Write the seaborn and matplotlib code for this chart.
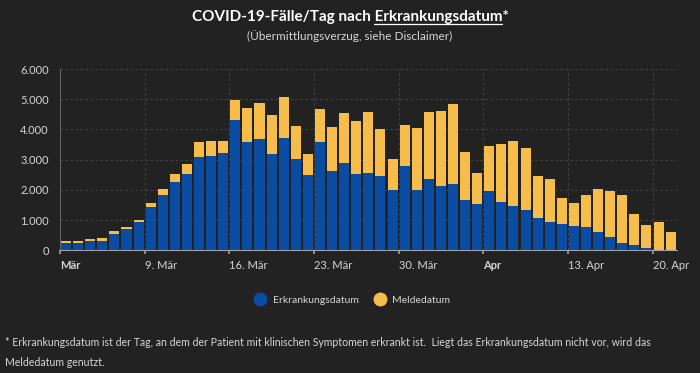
import numpy as np
import pandas as pd
import matplotlib
matplotlib.use("Agg")
import matplotlib.pyplot as plt
from matplotlib.lines import Line2D
from matplotlib.ticker import FuncFormatter
import seaborn as sns

# daily cases, 2 Mar - 21 Apr 2020
days = pd.date_range("2020-03-02", "2020-04-21").strftime("%d.%m.")
erkrankung = [255, 233, 322, 311, 555, 700, 922, 1433, 1833, 2267, 2511, 3089, 3133,
              3222, 4300, 3589, 3678, 3189, 3711, 3011, 2478, 3589, 2633, 2878, 2533,
              2567, 2444, 1989, 2778, 2011,
              2367, 2133, 2189, 1678, 1522, 1956, 1589, 1467, 1333, 1067, 944, 878,
              789, 756, 600, 444, 256, 178, 78, 22, 0]
melde = [45, 67, 67, 111, 89, 78, 78, 145, 211, 255, 344, 511, 500,
         411, 678, 1111, 1211, 1300, 1367, 1111, 711, 1078, 1456, 1666, 1734,
         2011, 1578, 1022, 1366, 2044,
         2211, 2478, 2644, 1577, 1022, 1511, 1944, 2155, 2067, 1388, 1423, 844,
         778, 1077, 1422, 1511, 1577, 1011, 766, 911, 600]
tick_pos = [-0.5, 6.5, 13.5, 20.5, 27.5, 34.5, 41.5, 48.5]
tick_labels = ["Mär", "9. Mär", "16. Mär", "23. Mär", "30. Mär", "Apr", "13. Apr", "20. Apr"]

BG = "#222222"
BLUE = "#0b4ca3"
YELLOW = "#f6bd4a"
TXT = "#d6d6d6"

sns.set_theme(style="dark", rc={"figure.facecolor": BG, "axes.facecolor": BG})
plt.rcParams["font.family"] = ["Lato", "DejaVu Sans"]

df = pd.DataFrame({"tag": days, "erk": erkrankung, "melde": melde})
df["gesamt"] = df["erk"] + df["melde"]

fig = plt.figure(figsize=(7, 3.73), dpi=100)
ax = fig.add_axes([0.0857, 0.329, 0.881, 0.486])

sns.barplot(data=df, x="tag", y="gesamt", color=YELLOW, saturation=1, width=0.83,
            linewidth=0, ax=ax)
sns.barplot(data=df, x="tag", y="erk", color=BLUE, saturation=1, width=0.83,
            linewidth=0, ax=ax)

ax.set_xlim(-0.5, 50.5)
ax.set_ylim(0, 6000)
ax.set_xlabel("")
ax.set_ylabel("")
ax.set_yticks(range(0, 7000, 1000))
ax.yaxis.set_major_formatter(FuncFormatter(lambda v, p: f"{int(v):,}".replace(",", ".")))
ax.tick_params(axis="y", length=0, pad=8, labelsize=8, labelcolor=TXT)
ax.set_xticks(tick_pos)
ax.set_xticklabels(tick_labels)
ax.tick_params(axis="x", length=3, color="#9a9a9a", pad=4, labelsize=8, labelcolor=TXT,
               bottom=True)
for lab in ax.get_xticklabels():
    lab.set_horizontalalignment("left")
    if lab.get_text() in ("Mär", "Apr"):
        lab.set_fontweight("bold")

ax.grid(True, axis="both", linestyle=(0, (3, 3)), color="#4a4a4a", linewidth=0.6)
ax.set_axisbelow(True)
for s in ("top", "right"):
    ax.spines[s].set_visible(False)
ax.spines["left"].set_color("#6a6a6a")
ax.spines["left"].set_linewidth(0.7)
ax.spines["bottom"].set_color("#a0a0a0")
ax.spines["bottom"].set_linewidth(0.8)

# title with underlined word
title = "COVID-19-Fälle/Tag nach Erkrankungsdatum*"
tkw = dict(fontsize=11, fontweight="bold", color="white")
fig.text(0.5, 1 - 21 / 373, title, ha="center", va="baseline", **tkw)
fig.canvas.draw()
r = fig.canvas.get_renderer()


def width_px(s):
    t = fig.text(0, 0, s, **tkw)
    w = t.get_window_extent(r).width
    t.remove()
    return w


W = fig.get_figwidth() * fig.dpi
full_w = width_px(title)
left = W / 2 - full_w / 2
end = left + width_px("COVID-19-Fälle/Tag nach Erkrankungsdatum")
start = end - width_px("Erkrankungsdatum")
yline = 1 - 23.5 / 373
fig.add_artist(Line2D([start / W, end / W], [yline, yline], color="white", lw=0.9,
                      transform=fig.transFigure))

fig.text(0.5, 1 - 36 / 373, "(Übermittlungsverzug, siehe Disclaimer)", ha="center",
         va="center", fontsize=8.5, color=TXT)

handles = [Line2D([], [], marker="o", ls="none", markersize=9, color=BLUE),
           Line2D([], [], marker="o", ls="none", markersize=9, color=YELLOW)]
fig.legend(handles, ["Erkrankungsdatum", "Meldedatum"], loc="center",
           bbox_to_anchor=(0.5, 1 - 300 / 373), ncol=2, frameon=False, fontsize=7.5,
           labelcolor=TXT, handletextpad=0.2, columnspacing=1.0)

fig.text(0.007, 1 - 343 / 373,
         "* Erkrankungsdatum ist der Tag, an dem der Patient mit klinischen Symptomen "
         "erkrankt ist.  Liegt das Erkrankungsdatum nicht vor, wird das",
         ha="left", va="center", fontsize=7.6, color=TXT)
fig.text(0.007, 1 - 363 / 373, "Meldedatum genutzt.", ha="left", va="center",
         fontsize=7.6, color=TXT)

fig.savefig("out.png", dpi=100, facecolor=BG)
